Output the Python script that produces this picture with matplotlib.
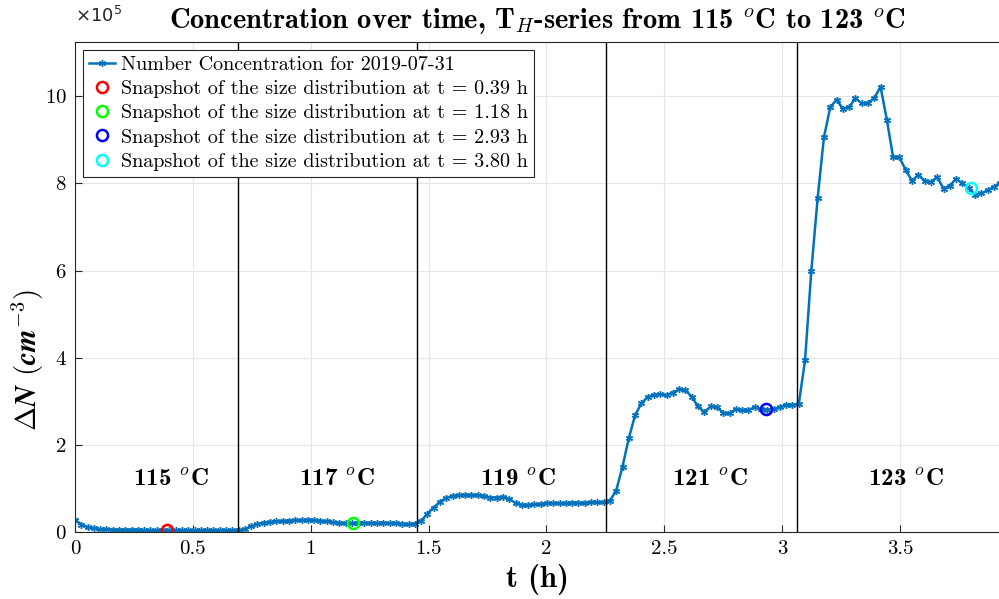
import numpy as np
import matplotlib
matplotlib.use("Agg")
import matplotlib.pyplot as plt
from matplotlib.ticker import ScalarFormatter

plt.rcParams['font.family'] = ['cmr10', 'DejaVu Serif']
plt.rcParams['mathtext.fontset'] = 'cm'
plt.rcParams['axes.formatter.use_mathtext'] = True
plt.rcParams['axes.unicode_minus'] = False

# number concentration, units of 1e5 cm^-3, one sample every 0.0267 h
dt = 0.0267
conc = [0.28, 0.17, 0.11, 0.08, 0.06, 0.06, 0.05, 0.05, 0.05, 0.05,
        0.05, 0.04, 0.04, 0.04, 0.04, 0.04, 0.04, 0.04, 0.04, 0.04,
        0.04, 0.04, 0.04, 0.04, 0.04, 0.04, 0.04, 0.06, 0.13, 0.18,
        0.21, 0.23, 0.24, 0.25, 0.26, 0.27, 0.27, 0.28, 0.27, 0.26,
        0.24, 0.22, 0.21, 0.20, 0.20, 0.21, 0.21, 0.21, 0.20, 0.21,
        0.20, 0.20, 0.19, 0.18, 0.19, 0.25, 0.42, 0.56, 0.69, 0.78,
        0.83, 0.84, 0.85, 0.85, 0.85, 0.83, 0.79, 0.79, 0.81, 0.76,
        0.66, 0.62, 0.62, 0.63, 0.64, 0.66, 0.66, 0.66, 0.66, 0.67,
        0.67, 0.67, 0.68, 0.68, 0.68, 0.72, 0.95, 1.50, 2.15, 2.68,
        2.95, 3.10, 3.15, 3.16, 3.14, 3.20, 3.27, 3.26, 3.10, 2.88,
        2.75, 2.88, 2.87, 2.73, 2.72, 2.82, 2.80, 2.80, 2.86, 2.82,
        2.81, 2.82, 2.86, 2.92, 2.92, 2.93, 3.94, 6.00, 7.66, 9.06,
        9.75, 9.92, 9.72, 9.75, 9.96, 9.84, 9.85, 9.96, 10.22, 9.46,
        8.60, 8.60, 8.31, 8.06, 8.20, 8.06, 8.03, 8.15, 7.88, 7.95,
        8.11, 8.00, 7.90, 7.74, 7.77, 7.84, 7.92, 8.02]
t = np.arange(len(conc)) * dt
N = np.array(conc) * 1e5

snap_t = [0.39, 1.18, 2.93, 3.80]
snap_N = [0.04, 0.20, 2.82, 7.90]
snap_colors = ['red', 'lime', 'blue', 'cyan']

switch_t = [0.69, 1.449, 2.254, 3.064]
temps = ['115', '117', '119', '121', '123']
label_x = [0.407, 1.11, 1.88, 2.695, 3.525]

fig = plt.figure(figsize=(9.99, 5.99), dpi=100)
ax = fig.add_axes([0.075, 0.112, 0.925, 0.818])

ax.plot(t, N, '-', marker=(6, 2, 0), color='#0072BD', lw=1.8, ms=5, mew=1.0,
        label='Number Concentration for 2019-07-31')
for st, sn, c in zip(snap_t, snap_N, snap_colors):
    ax.plot(st, sn * 1e5, 'o', mfc='none', mec=c, mew=1.8, ms=8,
            label='Snapshot of the size distribution at t = %.2f h' % st)

for s in switch_t:
    ax.axvline(s, color='black', lw=1.0)

for lx, T in zip(label_x, temps):
    ax.text(lx, 1.2e5, T + r' $^o$C', ha='center', va='center',
            fontsize=18, family='cmb10')

ax.set_xlim(0, 3.92)
ax.set_ylim(0, 11.25e5)
ax.set_xticks(np.arange(0, 4.0, 0.5))
ax.set_xticklabels(['0', '0.5', '1', '1.5', '2', '2.5', '3', '3.5'])
ax.set_yticks(np.arange(0, 11e5, 2e5))
fmt = ScalarFormatter(useMathText=True)
fmt.set_powerlimits((5, 5))
ax.yaxis.set_major_formatter(fmt)
ax.yaxis.get_offset_text().set_visible(False)
ax.text(0.0, 1.055, r'$\times10^{5}$', transform=ax.transAxes, ha='left',
        va='center', fontsize=13, color='#262626', math_fontfamily='dejavusans')

ax.grid(True, color='#e6e6e6', lw=0.8)
ax.set_axisbelow(True)
ax.tick_params(direction='in', length=5, labelsize=15, color='#262626', pad=6)
for sp in ax.spines.values():
    sp.set_color('#262626')
    sp.set_linewidth(0.8)
ax.spines['right'].set_visible(False)

ax.set_xlabel('t (h)', fontsize=22, family='cmb10', labelpad=4)
ax.set_ylabel(r'$\mathbf{\Delta}\mathbfit{N}$ $\mathbf{(}\mathbfit{cm}^{\mathbf{-3}}\mathbf{)}$',
              fontsize=21)
ax.yaxis.set_label_coords(-0.031, 0.35)
ax.set_title(r'Concentration over time, T$_H$-series from 115 $^o$C to 123 $^o$C',
             fontsize=20.5, family='cmb10', pad=10)

leg = ax.legend(loc='upper left', fontsize=14.5, handlelength=1.3,
                handletextpad=0.3, borderaxespad=0.4, fancybox=False,
                edgecolor='#262626', framealpha=1, borderpad=0.3,
                labelspacing=0.3)
leg.get_frame().set_linewidth(0.8)

fig.savefig('out.png', dpi=100)
